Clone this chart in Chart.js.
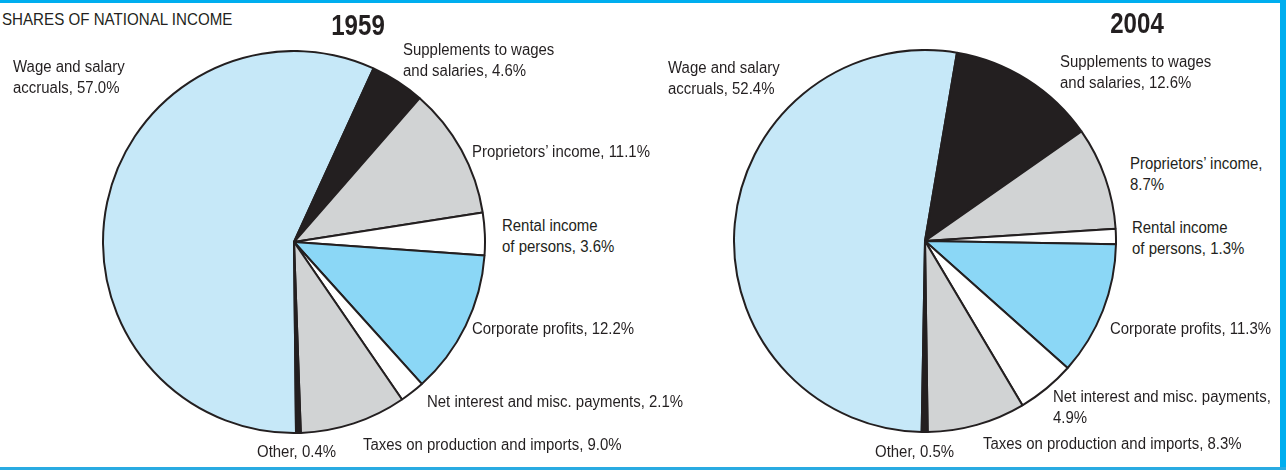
<!DOCTYPE html>
<html>
<head>
<meta charset="utf-8">
<script src="https://cdn.jsdelivr.net/npm/chart.js@4.4.1/dist/chart.umd.min.js"></script>
<style>
  body { margin: 0; background: #fff; }
  #wrap { position: relative; width: 1286px; height: 470px; overflow: hidden; background: #fff;
          font-family: "Liberation Sans", Arial, sans-serif; color: #231f20; }
  .bar { position: absolute; background: #00aeef; }
  canvas { position: absolute; }
  .lbl { position: absolute; font-size: 16px; line-height: 21px; white-space: nowrap;
         transform: scaleX(0.935); transform-origin: left top; }
  .head { position: absolute; font-size: 17px; line-height: 20px; white-space: nowrap;
          transform: scaleX(0.89); transform-origin: left top; }
  .year { position: absolute; font-size: 29px; line-height: 32px; font-weight: bold; width: 100px;
          text-align: center; transform: scaleX(0.83); }
</style>
</head>
<body>
<div id="wrap">
  <div class="bar" style="left:0;top:0;width:1286px;height:3px;"></div>
  <div class="bar" style="left:1280px;top:0;width:6px;height:470px;"></div>
  <div class="bar" style="left:0;top:467px;width:1286px;height:3px;background:#29abe2;"></div>
  <div class="head" style="left:2px;top:10px;">SHARES OF NATIONAL INCOME</div>
  <canvas id="pie1959" width="384" height="384" style="left:102px;top:50px;"></canvas>
  <canvas id="pie2004" width="384" height="384" style="left:733px;top:49px;"></canvas>
</div>
<script>
const categories = ["Wage and salary accruals", "Supplements to wages and salaries", "Proprietors’ income",
  "Rental income of persons", "Corporate profits", "Net interest and misc. payments",
  "Taxes on production and imports", "Other"];
const years = ["1959", "2004"];
const shares1959 = [57.0, 4.6, 11.1, 3.6, 12.2, 2.1, 9.0, 0.4];
const shares2004 = [52.4, 12.6, 8.7, 1.3, 11.3, 4.9, 8.3, 0.5];

const sliceColors = ["#c6e8f8", "#231f20", "#d1d3d4", "#ffffff", "#8bd7f6", "#ffffff", "#d1d3d4", "#231f20"];

// label placement: left x, cap top y, words on the first line (0 = one line)
const layout1959 = [[13, 60, 3], [403, 43, 3], [472, 145, 0], [502, 219, 2], [472, 322, 0], [427, 395, 0], [363, 438, 0], [257, 445, 0]];
const layout2004 = [[668, 61, 3], [1060, 55, 3], [1130, 157, 2], [1132, 221, 2], [1110, 322, 0], [1053, 390, 5], [983, 437, 0], [875, 445, 0]];

const wrap = document.getElementById("wrap");

function addLabels(values, layout) {
    values.forEach((v, i) => {
        const words = `${categories[i]}, ${v.toFixed(1)}%`.split(" ");
        const [x, capTop, n] = layout[i];
        const div = document.createElement("div");
        div.className = "lbl";
        div.style.left = x + "px";
        div.style.top = (capTop - 4.5) + "px";
        if (n) {
            div.innerHTML = words.slice(0, n).join(" ") + "<br>" + words.slice(n).join(" ");
        } else {
            div.textContent = words.join(" ");
        }
        wrap.appendChild(div);
    });
}

function addYear(text, cx, top) {
    const div = document.createElement("div");
    div.className = "year";
    div.style.left = (cx - 50) + "px";
    div.style.top = top + "px";
    div.textContent = text;
    wrap.appendChild(div);
}

function drawPie(id, values, rotation) {
    new Chart(document.getElementById(id), {
        type: "pie",
        data: {
            labels: categories,
            datasets: [{
                data: values,
                backgroundColor: sliceColors,
                borderColor: "#231f20",
                borderWidth: 2
            }]
        },
        options: {
            responsive: false,
            animation: false,
            rotation: rotation,
            layout: {padding: 0},
            plugins: {legend: {display: false}, tooltip: {enabled: false}}
        }
    });
}

drawPie("pie1959", shares1959, 179.4);
drawPie("pie2004", shares2004, 181);
addLabels(shares1959, layout1959);
addLabels(shares2004, layout2004);
addYear(years[0], 357.5, 9);
addYear(years[1], 1136.5, 6.5);
</script>
</body>
</html>
